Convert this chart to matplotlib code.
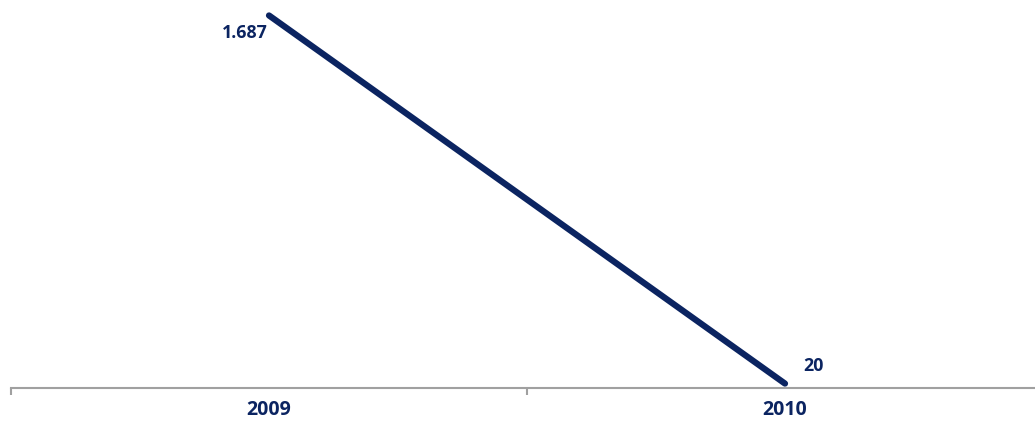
import matplotlib
matplotlib.use("Agg")
import matplotlib.pyplot as plt

years = ["2009", "2010"]
values = [1687, 20]
value_labels = ["1.687", "20"]

navy = "#0b2461"
gray = "#a0a0a0"

plt.rcParams["font.family"] = ["Open Sans", "DejaVu Sans"]

fig = plt.figure(figsize=(10.35, 4.23), dpi=100)
# axes run slightly past the right edge, like the original
ax = fig.add_axes([11 / 1035, 35 / 423, 1032 / 1035, 388 / 423])

x = list(range(len(years)))
ax.plot(x, values, color=navy, linewidth=4.5, solid_capstyle="round")

ax.set_xlim(-0.5, len(years) - 0.5)
ax.set_ylim(0, 1757)

# value labels
ax.annotate(value_labels[0], (x[0], values[0]), xytext=(-24.5, -22.7),
            textcoords="offset pixels", ha="center", va="baseline",
            color=navy, fontsize=12.8, fontweight="bold")
ax.annotate(value_labels[1], (x[1], values[1]), xytext=(28, 13),
            textcoords="offset pixels", ha="center", va="baseline",
            color=navy, fontsize=12.8, fontweight="bold")

for s in ["top", "right", "left"]:
    ax.spines[s].set_visible(False)
ax.spines["bottom"].set_color(gray)
ax.spines["bottom"].set_linewidth(1.5)

ax.set_yticks([])
ax.set_xticks(x)
ax.set_xticklabels(years, color=navy, fontsize=14, fontweight="bold")
for lbl in ax.get_xticklabels():
    lbl.set_va("baseline")
ax.tick_params(axis="x", which="major", length=0, pad=19.4)
ax.set_xticks([-0.5, 0.5, 1.5], minor=True)
ax.tick_params(axis="x", which="minor", length=5, width=1.5, color=gray,
               direction="out")

fig.savefig("out.png", dpi=100)
